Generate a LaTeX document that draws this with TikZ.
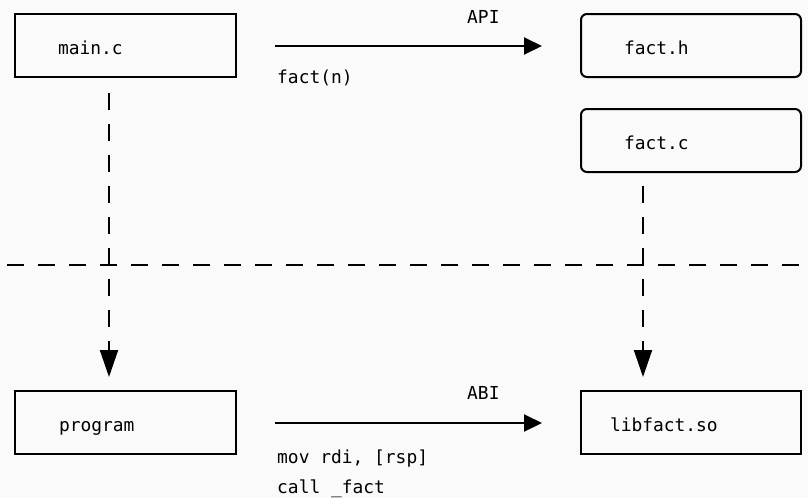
\documentclass[tikz,border=0pt]{standalone}
\usepackage{fontspec}
\setmainfont{DejaVu Sans Mono}
\usetikzlibrary{arrows.meta}
\definecolor{bgc}{RGB}{250,250,250}
\tikzset{
  box/.style={draw=black, line width=2pt, minimum height=63pt, align=left,
    text height=17pt, text depth=0pt, inner ysep=0pt,
    font=\fontsize{17.9}{21}\selectfont},
  roundbox/.style={box, rounded corners=6pt},
  lbl/.style={anchor=base west, inner sep=0pt, font=\fontsize{17.9}{21}\selectfont},
  conn/.style={line width=2pt, -{Triangle[length=18pt,width=17pt]}},
  dconn/.style={line width=2pt, dash pattern=on 17pt off 14pt, -{Triangle[length=27pt,width=18pt]}},
  divider/.style={line width=2pt, dash pattern=on 17pt off 14pt, dash phase=24pt}
}
\begin{document}
\begin{tikzpicture}[x=1pt,y=-1pt]
\fill[bgc] (0,0) rectangle (808,498);
\useasboundingbox (0,0) rectangle (808,498);

\node[box, inner xsep=43pt, text width=135pt] (mainc) at (125.5,45.5) {main.c};
\node[roundbox, inner xsep=43pt, text width=134pt] (facth) at (691,45.5) {fact.h};
\node[roundbox, inner xsep=43pt, text width=134pt] (factc) at (691,140.5) {fact.c};
\node[box, inner xsep=44pt, text width=133pt] (prog) at (125.5,422.5) {program};
\node[box, inner xsep=29pt, text width=162pt] (lib) at (691,422.5) {libfact.so};

\coordinate (dl) at (0,265);
\coordinate (dr) at (808,265);
\draw[divider] (dl) -- (dr);

\draw[conn] ([xshift=38pt,yshift=-0.5pt]mainc.east) -- ([xshift=-38pt,yshift=-0.5pt]facth.west);
\draw[conn] ([xshift=38pt,yshift=-0.5pt]prog.east) -- ([xshift=-38pt,yshift=-0.5pt]lib.west);

\draw[dconn] ([yshift=-15pt]mainc.south -| 109,0) -- ([yshift=13pt]prog.north -| 109,0);
\draw[dconn] ([yshift=-13pt]factc.south -| 643,0) -- ([yshift=13pt]lib.north -| 643,0);

\node[lbl] (api) at (467,23) {API};
\node[lbl] (factn) at (277,83) {fact(n)};
\node[lbl] (abi) at (467,399) {ABI};
\node[lbl] (mov) at (277,463) {mov rdi, [rsp]};
\node[lbl] (call) at (277,493) {call \_fact};
\end{tikzpicture}
\end{document}
